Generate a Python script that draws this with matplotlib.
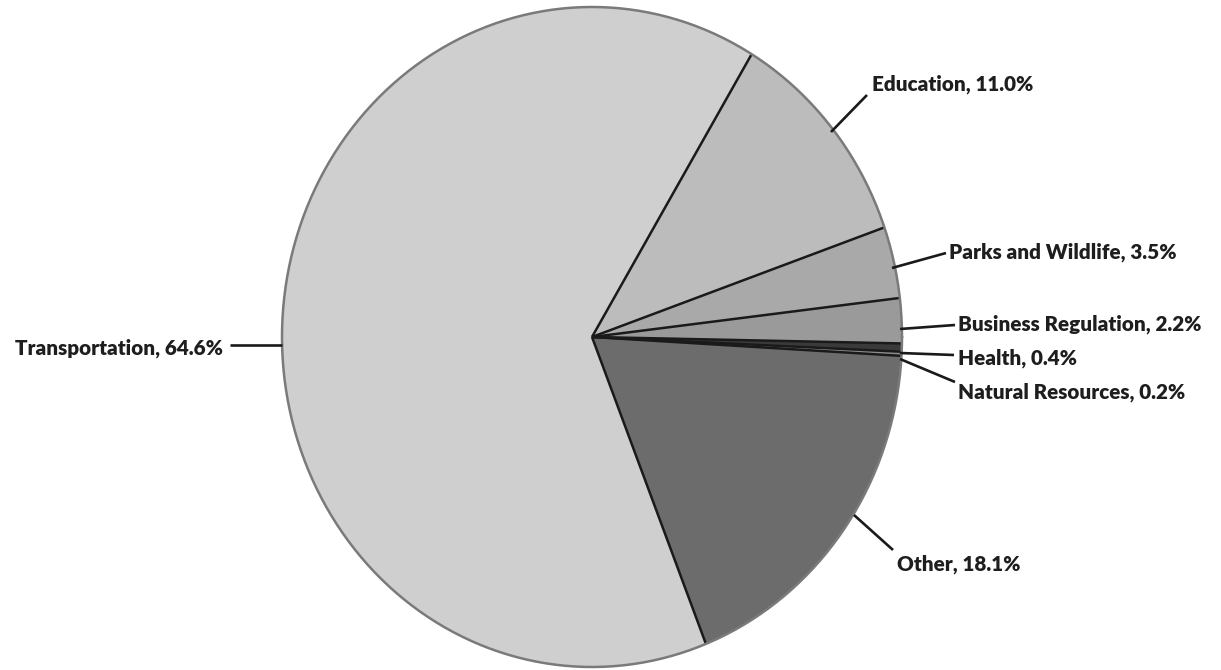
import matplotlib
matplotlib.use("Agg")
import matplotlib.pyplot as plt
from matplotlib import font_manager
import numpy as np

# ---- data ----
categories = ["Education", "Parks and Wildlife", "Business Regulation", "Health",
              "Natural Resources", "Other", "Transportation"]
shares = [11.0, 3.5, 2.2, 0.4, 0.2, 18.1, 64.6]
colors = ["#bcbcbc", "#a9a9a9", "#9a9a9a", "#3a3a3a", "#8c8c8c", "#6c6c6c", "#cfcfcf"]

# ---- layout (pixels) ----
W, H = 1221, 670
CX, CY, RX, RY = 592, 337, 310, 330
START = 59.0

def to_data(px, py):
    return (px - CX) / RX, (CY - py) / RY

# label layout: (leader start px, leader end px, text anchor px (baseline), ha)
label_layout = {
    "Education":           ((831, 132), (867, 95),  (872, 90),  "left"),
    "Parks and Wildlife":  ((892, 268), (946, 253), (949, 259), "left"),
    "Business Regulation": ((900, 329), (955, 325), (958, 331), "left"),
    "Health":              ((900, 353), (954, 355), (958, 364), "left"),
    "Natural Resources":   ((900, 359), (955, 382), (958, 398), "left"),
    "Other":               ((854, 515), (893, 550), (897, 571), "left"),
    "Transportation":      ((282, 345), (230, 345), (223, 354), "right"),
}

available = {f.name for f in font_manager.fontManager.ttflist}
font_choice = next((f for f in ["Liberation Sans Narrow", "Lato", "Roboto"]
                    if f in available), "DejaVu Sans")
FONT = [font_choice, "DejaVu Sans"]
WEIGHT = "heavy"

fig = plt.figure(figsize=(W / 100, H / 100), dpi=100)
fig.patch.set_facecolor("white")
ax = fig.add_axes([0, 0, 1, 1])

wedges, _ = ax.pie(shares, colors=colors, startangle=START, counterclock=False,
                   radius=1, center=(0, 0),
                   wedgeprops=dict(linewidth=0, edgecolor="none"))

# radial boundaries
bounds = START - np.cumsum([0] + shares) * 3.6
for a in bounds[:-1]:
    t = np.deg2rad(a)
    ax.plot([0, np.cos(t)], [0, np.sin(t)], color="#1a1a1a", lw=1.8,
            solid_capstyle="butt", zorder=3)

# outer edge
th = np.linspace(0, 2 * np.pi, 600)
ax.plot(np.cos(th), np.sin(th), color="#7a7a7a", lw=1.8, zorder=4)

ax.set_aspect("auto")
ax.set_xlim(-CX / RX, (W - CX) / RX)
ax.set_ylim((CY - H) / RY, CY / RY)
ax.axis("off")

# fit font size so "Education, 11.0%" is ~162 px wide, like the reference
renderer = fig.canvas.get_renderer()
probe = fig.text(0, 0, "Education, 11.0%", fontsize=16, family=FONT,
                 fontweight=WEIGHT)
wpx = probe.get_window_extent(renderer).width
probe.remove()
fsize = 16 * 162.0 / wpx

for name, val in zip(categories, shares):
    (sx, sy), (ex, ey), (tx, ty), ha = label_layout[name]
    x0, y0 = to_data(sx, sy)
    x1, y1 = to_data(ex, ey)
    ax.plot([x0, x1], [y0, y1], color="#1a1a1a", lw=1.9, solid_capstyle="butt",
            zorder=5)
    xt, yt = to_data(tx, ty)
    ax.text(xt, yt, f"{name}, {val:.1f}%", ha=ha, va="baseline",
            fontsize=fsize, family=FONT, fontweight=WEIGHT,
            color="#1e1e1e", zorder=6)

fig.savefig("out.png", dpi=100, facecolor="white")
